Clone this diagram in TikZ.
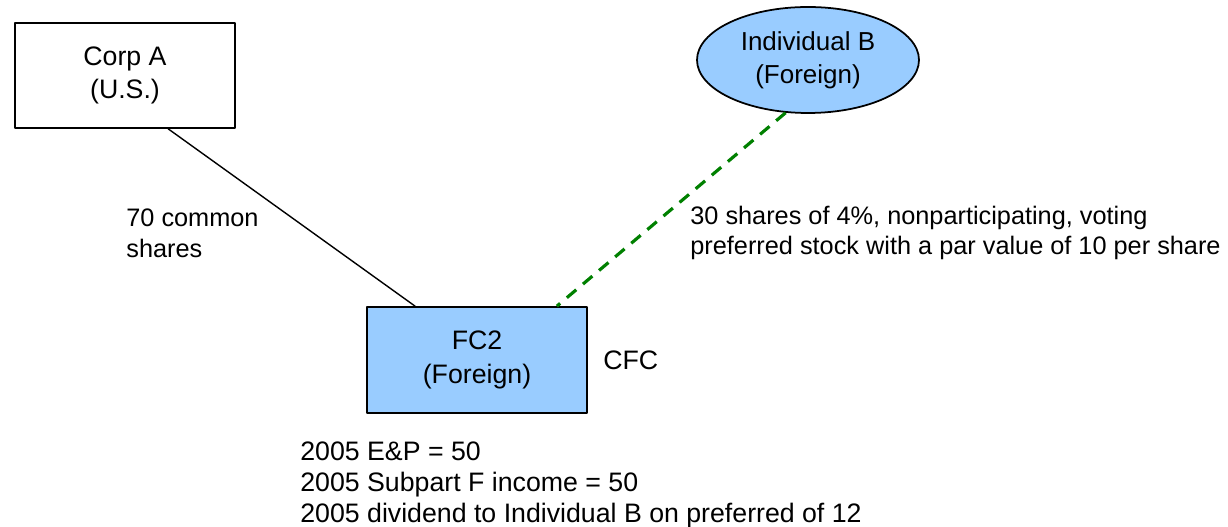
\documentclass[tikz,border=0pt]{standalone}
\usepackage{fontspec}
\setmainfont{Liberation Sans}
\usetikzlibrary{shapes.geometric}
\definecolor{paleblue}{RGB}{153,204,255}
\definecolor{prefgreen}{RGB}{0,128,0}
\begin{document}
\begin{tikzpicture}[line cap=round, line join=round, x=1cm, y=1cm,
        entity/.style={draw, line width=1pt, minimum width=4.4cm, minimum height=2.1cm, align=center, inner sep=0pt, font=\fontsize{15.2}{19}\selectfont},
        person/.style={draw, line width=1pt, ellipse, fill=paleblue, minimum width=4.44cm, minimum height=2.12cm, align=center, inner sep=0pt, font=\fontsize{14.8}{18.6}\selectfont},
        note/.style={anchor=west, align=left, inner sep=0pt, font=\fontsize{14.4}{17.6}\selectfont}]

                \useasboundingbox (0,0) rectangle (24.56,10.54);

                \node[entity] (corpa) at (2.5, 9.03) {Corp A\\(U.S.)};
                \node[person] (indb) at (16.16, 9.34) {Individual B\\(Foreign)};
                \node[entity, fill=paleblue, minimum height=2.12cm] (fc2) at (9.54, 3.34) {FC2\\(Foreign)};

                \draw[line width=0.8pt] (corpa.-51) -- (fc2.139.5);
                \draw[prefgreen, line width=1.8pt, line cap=butt, dash pattern=on 7pt off 5pt] (indb.-113.5) -- (fc2.34.9);

                \node[note] (common) at (2.52, 5.88) {70 common\\shares};
                \node[note] (pref) at (13.8, 5.88) {30 shares of 4\%, nonparticipating, voting\\preferred stock with a par value of 10 per share};
                \node[note, font=\fontsize{15.2}{17.6}\selectfont] (cfc) at (12.06, 3.34) {CFC};
                \node[note, font=\fontsize{15.2}{17.6}\selectfont] (facts) at (6.0, 0.84) {2005 E\&P = 50\\2005 Subpart F income = 50\\2005 dividend to Individual B on preferred of 12};

            \end{tikzpicture}
\end{document}
